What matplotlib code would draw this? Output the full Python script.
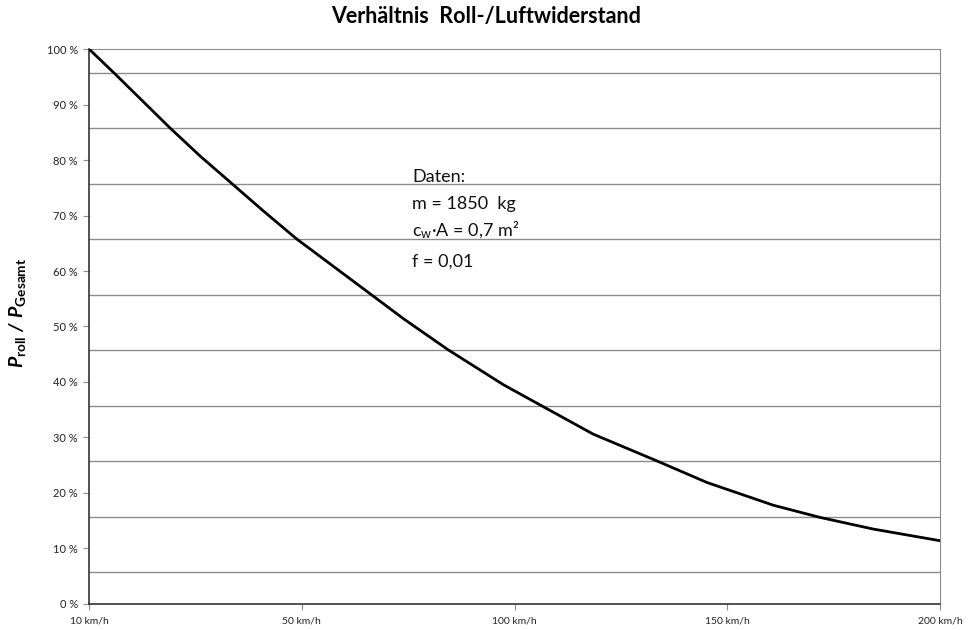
import matplotlib.pyplot as plt
import numpy as np

plt.rcParams['font.family'] = ['Lato', 'DejaVu Sans']
plt.rcParams['mathtext.fontset'] = 'custom'
plt.rcParams['mathtext.rm'] = 'Lato'
plt.rcParams['mathtext.bf'] = 'Lato:bold'
plt.rcParams['mathtext.bfit'] = 'Lato:bold:italic'
plt.rcParams['mathtext.it'] = 'Lato:italic'

# speed (km/h) and share of rolling resistance in total power (%)
speed = [10, 14.9, 25.2, 30.9, 36.8, 42.8, 49.0, 58.2, 66.4, 73.9, 84.4,
         97.4, 106.4, 118.5, 133.4, 145.2, 160.8, 171.8, 184.3, 200]
share = [100, 95.5, 85.8, 80.7, 75.8, 70.8, 65.8, 60.4, 55.7, 51.4, 45.8,
         39.5, 35.7, 30.6, 25.8, 21.9, 17.8, 15.6, 13.5, 11.4]

x_ticks = [10, 50, 100, 150, 200]
y_ticks = [0, 10, 20, 30, 40, 50, 60, 70, 80, 90, 100]
grid_levels = [5.7, 15.7, 25.7, 35.7, 45.7, 55.7, 65.7, 75.7, 85.7, 95.7]

# the labelled speeds sit at equal distances on the axis
tick_pos = np.arange(len(x_ticks), dtype=float)


def fwd(v):
    return np.interp(v, x_ticks, tick_pos)


def inv(p):
    return np.interp(p, tick_pos, x_ticks)


fig = plt.figure(figsize=(9.72, 6.3), dpi=100)
ax = fig.add_axes([0.0916, 0.0413, 0.8755, 0.8809])
ax.set_xscale('function', functions=(fwd, inv))

for g in grid_levels:
    ax.axhline(g, color='#8c8c8c', lw=1.0, zorder=1)

ax.plot(speed, share, color='black', lw=2.0, zorder=3,
        solid_capstyle='round', solid_joinstyle='round')

ax.set_xlim(10, 200)
ax.set_ylim(0, 100)
ax.set_xticks(x_ticks)
ax.set_xticklabels([f'{v} km/h' for v in x_ticks])
ax.set_yticks(y_ticks)
ax.set_yticklabels([f'{v} %' for v in y_ticks])
ax.tick_params(axis='x', length=4, color='#8c8c8c', labelsize=7.5, pad=5,
               labelcolor='#222222')
ax.tick_params(axis='y', length=4, color='#8c8c8c', labelsize=8, pad=4,
               labelcolor='#222222')

ax.spines['left'].set_color('#333333')
ax.spines['bottom'].set_color('#333333')
ax.spines['left'].set_linewidth(1.2)
ax.spines['bottom'].set_linewidth(1.2)
ax.spines['top'].set_color('#8c8c8c')
ax.spines['right'].set_color('#8c8c8c')

ax.set_ylabel(r'$\mathbfit{P}_{\mathbf{roll}}\mathbfit{\ /\ P}_{\mathbf{Gesamt}}$',
              fontsize=14)
ax.yaxis.set_label_coords(-0.072, 0.525)

fig.suptitle('Verhältnis  Roll-/Luftwiderstand', fontsize=15.5,
             fontweight='bold', x=0.5, y=0.99)

notes = ['Daten:', 'm = 1850  kg', r'c$_\mathrm{w}$·A = 0,7 m²', 'f = 0,01']
note_y = [0.719, 0.676, 0.635, 0.584]
for t, yy in zip(notes, note_y):
    fig.text(0.424, yy, t, fontsize=13, va='center', ha='left',
             color='#111111')

fig.savefig('out.png', dpi=100)
